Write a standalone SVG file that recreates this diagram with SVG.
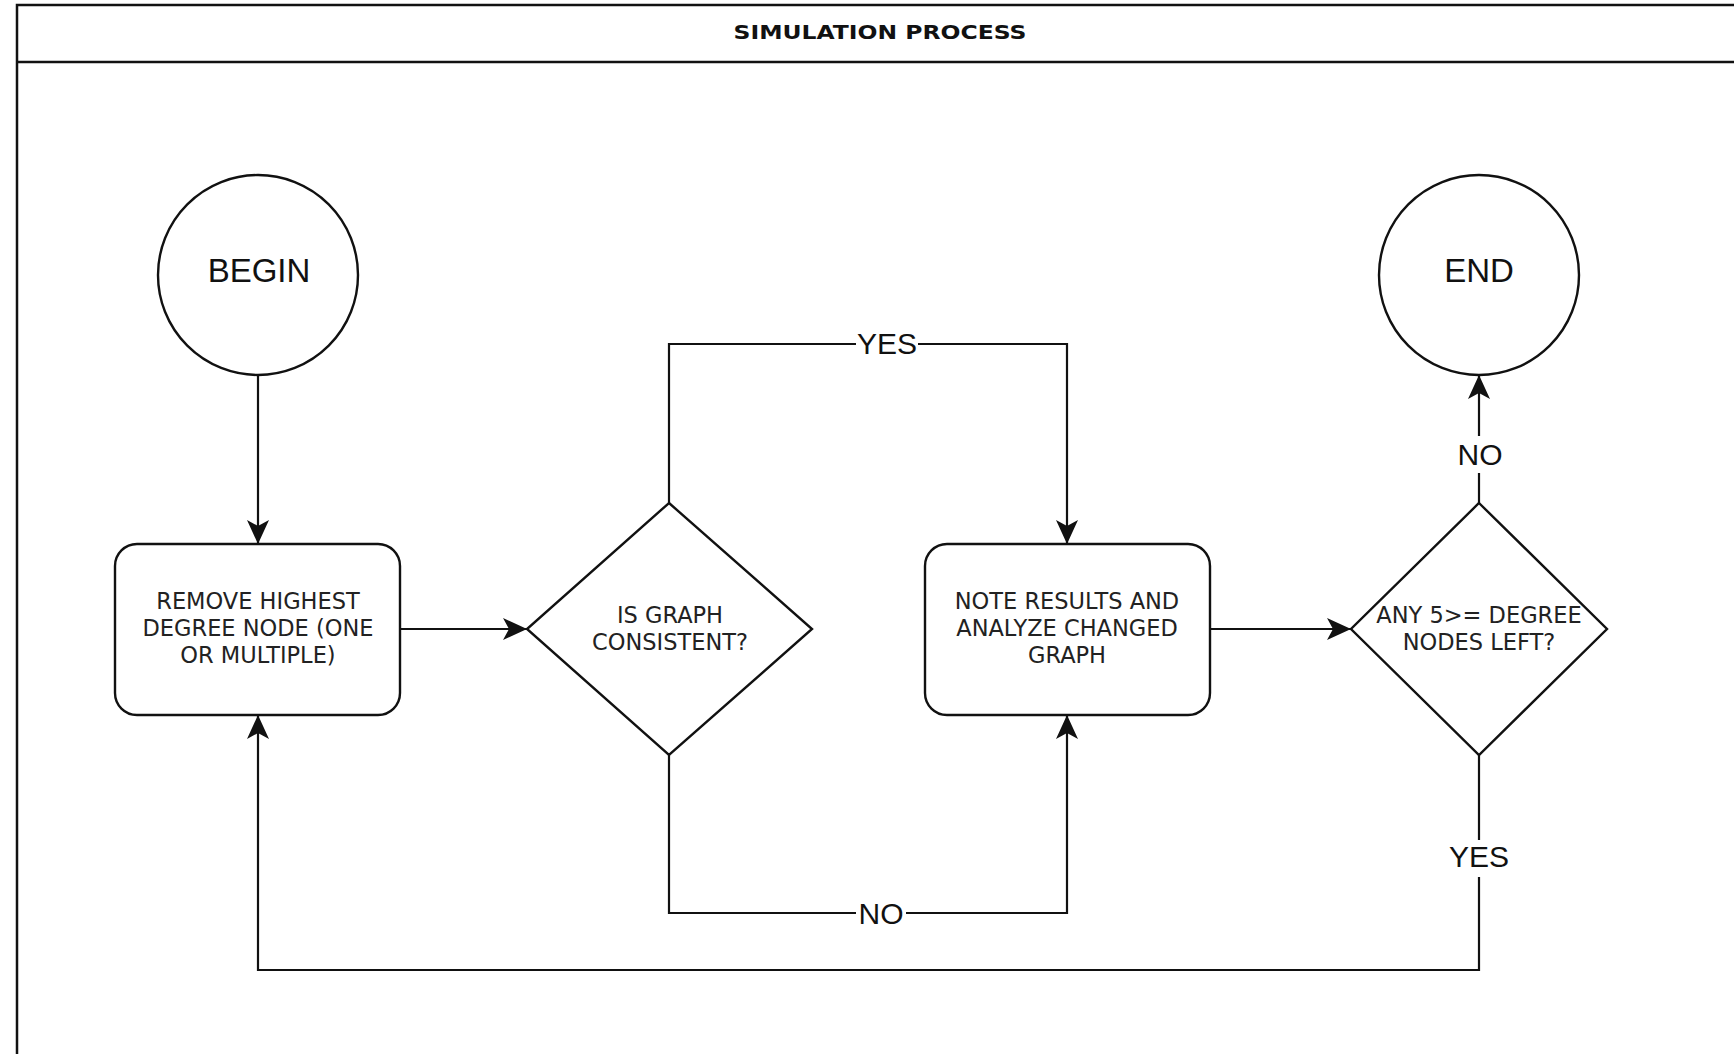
<svg xmlns="http://www.w3.org/2000/svg" width="1734" height="1054" viewBox="0 0 1734 1054">
  <style>
    .shape { fill: #ffffff; stroke: #111111; stroke-width: 2.4; }
    .frame { fill: none; stroke: #111111; stroke-width: 2.5; }
    .edge { fill: none; stroke: #111111; stroke-width: 2.2; }
    .arrow { marker-end: url(#head); }
    .node-text { font-family: "DejaVu Sans", Verdana, sans-serif; font-size: 22.5px; fill: #222222; text-anchor: middle; }
    .term-text { font-family: "Liberation Sans", Arial, sans-serif; font-size: 33px; fill: #111111; text-anchor: middle; }
    .label { font-family: "Liberation Sans", Arial, sans-serif; font-size: 30px; fill: #111111; text-anchor: middle; }
    .label-bg { fill: #ffffff; stroke: none; }
    .title { font-family: "DejaVu Sans", Verdana, sans-serif; font-size: 19px; font-weight: bold; fill: #111111; text-anchor: middle; }
  </style>
  <defs>
    <marker id="head" markerUnits="userSpaceOnUse" viewBox="0 0 24 22" markerWidth="24" markerHeight="22" refX="24" refY="11" orient="auto">
      <path d="M0,0 L24,11 L0,22 L6,11 Z" fill="#111111"/>
    </marker>
  </defs>

  <rect width="1734" height="1054" fill="#ffffff"/>

  <!-- swimlane frame with header -->
  <g id="frame">
    <rect class="frame" x="17" y="5" width="1726" height="1070"/>
    <line class="frame" x1="17" y1="62" x2="1743" y2="62"/>
    <text class="title" x="880" y="39" textLength="293" lengthAdjust="spacingAndGlyphs">SIMULATION PROCESS</text>
  </g>

  <!-- connectors -->
  <g id="connectors">
    <path class="edge arrow" d="M258,375 L258,544"/>
    <path class="edge arrow" d="M400,629 L527,629"/>
    <path class="edge arrow" d="M669,503 L669,344 L1067,344 L1067,544"/>
    <path class="edge arrow" d="M669,755 L669,913 L1067,913 L1067,715"/>
    <path class="edge arrow" d="M1210,629 L1351,629"/>
    <path class="edge arrow" d="M1479,503 L1479,375"/>
    <path class="edge arrow" d="M1479,755 L1479,970 L258,970 L258,715"/>

    <g id="edge-labels">
      <rect class="label-bg" x="856" y="328" width="62" height="30"/>
      <text class="label" x="887" y="354">YES</text>
      <rect class="label-bg" x="856" y="898" width="50" height="30"/>
      <text class="label" x="881" y="924">NO</text>
      <rect class="label-bg" x="1456" y="436" width="46" height="37"/>
      <text class="label" x="1480" y="465">NO</text>
      <rect class="label-bg" x="1446" y="840" width="66" height="37"/>
      <text class="label" x="1479" y="867">YES</text>
    </g>
  </g>

  <!-- nodes -->
  <g id="begin">
    <circle class="shape" cx="258" cy="275" r="100"/>
    <text class="term-text" x="259" y="282">BEGIN</text>
  </g>

  <g id="remove-node">
    <rect class="shape" x="115" y="544" width="285" height="171" rx="22" ry="22"/>
    <text class="node-text" x="258" y="609">REMOVE HIGHEST</text>
    <text class="node-text" x="258" y="636">DEGREE NODE (ONE</text>
    <text class="node-text" x="258" y="663">OR MULTIPLE)</text>
  </g>

  <g id="consistency-check">
    <polygon class="shape" points="669,503 812,629 669,755 527,629"/>
    <text class="node-text" x="670" y="623">IS GRAPH</text>
    <text class="node-text" x="670" y="650">CONSISTENT?</text>
  </g>

  <g id="note-results">
    <rect class="shape" x="925" y="544" width="285" height="171" rx="22" ry="22"/>
    <text class="node-text" x="1067" y="609">NOTE RESULTS AND</text>
    <text class="node-text" x="1067" y="636">ANALYZE CHANGED</text>
    <text class="node-text" x="1067" y="663">GRAPH</text>
  </g>

  <g id="degree-check">
    <polygon class="shape" points="1479,503 1607,629 1479,755 1351,629"/>
    <text class="node-text" x="1479" y="623">ANY 5&gt;= DEGREE</text>
    <text class="node-text" x="1479" y="650">NODES LEFT?</text>
  </g>

  <g id="end">
    <circle class="shape" cx="1479" cy="275" r="100"/>
    <text class="term-text" x="1479" y="282">END</text>
  </g>
</svg>
